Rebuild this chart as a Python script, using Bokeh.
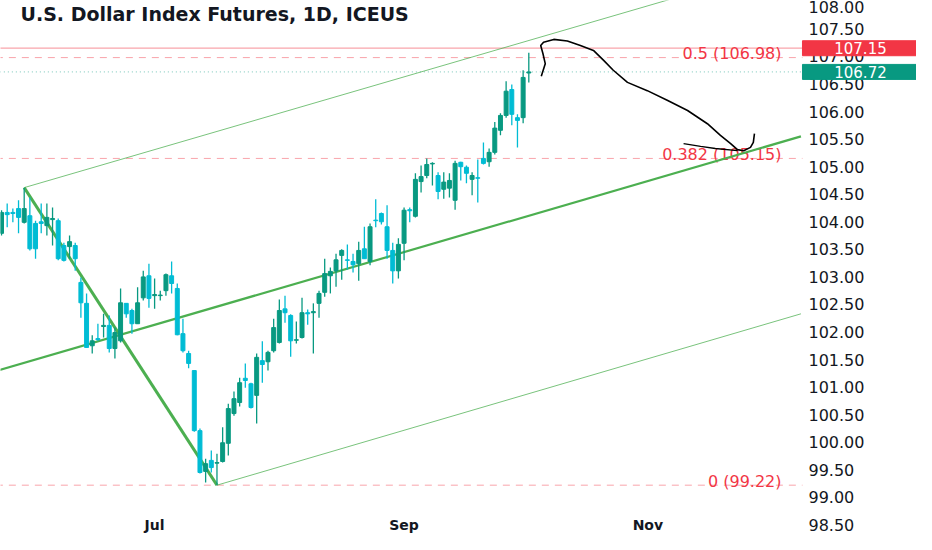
from bokeh.core.properties import value
from bokeh.embed import file_html
from bokeh.models import ColumnDataSource, FixedTicker, Label, PrintfTickFormatter, Range1d
from bokeh.plotting import figure
from bokeh.resources import INLINE

TITLE = "U.S. Dollar Index Futures, 1D, ICEUS"
UP_COLOR = "#089981"
DOWN_COLOR = "#00bcd4"
FIB_COLOR = "#f23645"
CHANNEL_COLOR = "#4caf50"
TEXT_COLOR = "#131722"
FONT = "DejaVu Sans"

# daily candles (bar index = trading day)
opens = [103.79, 104.17, 104.17, 104.24, 103.99, 104.11, 103.97, 104.00, 103.93, 104.04,
         104.02, 103.57, 103.55, 103.57, 102.90, 102.52, 101.75, 101.88, 102.10, 102.12,
         101.70, 101.84, 102.52, 102.39, 102.15, 102.62, 103.02, 102.66, 102.66, 102.75,
         103.02, 102.79, 101.97, 101.61, 101.30, 100.21, 99.47, 99.67, 99.62, 99.65,
         99.98, 100.52, 100.72, 101.16, 101.06, 100.85, 101.48, 101.46, 101.66, 101.81,
         102.42, 102.30, 101.85, 101.90, 102.35, 102.35, 102.52, 102.72, 103.02, 103.11,
         103.39, 103.31, 103.28, 103.24, 103.51, 103.28, 104.03, 104.15, 103.91, 103.48,
         103.11, 103.61, 104.22, 104.10, 104.73, 104.84, 105.05, 104.84, 104.59, 104.61,
         104.39, 105.08, 104.99, 104.77, 104.80, 105.15, 105.09, 105.26, 105.66, 105.93,
         106.40, 105.89, 105.89, 106.70]
highs = [104.21, 104.33, 104.24, 104.39, 104.62, 104.44, 104.02, 104.33, 104.33, 104.26,
         104.06, 103.62, 103.75, 103.62, 102.99, 102.70, 101.94, 102.15, 102.33, 102.30,
         102.08, 102.79, 102.52, 102.42, 102.81, 103.11, 103.24, 102.97, 102.75, 103.06,
         103.28, 102.88, 102.24, 101.66, 101.30, 100.25, 99.70, 99.85, 99.79, 100.27,
         100.70, 100.92, 101.17, 101.43, 101.08, 101.61, 101.83, 101.66, 102.24, 102.59,
         102.66, 102.32, 102.19, 102.62, 102.41, 102.52, 102.75, 103.33, 103.17, 103.42,
         103.50, 103.59, 103.42, 103.64, 103.91, 103.97, 104.41, 104.17, 104.30, 103.62,
         103.70, 104.26, 104.26, 104.88, 105.02, 105.15, 105.08, 104.90, 104.90, 104.88,
         105.11, 105.09, 105.02, 104.90, 105.13, 105.44, 105.33, 105.81, 105.97, 106.55,
         106.49, 105.95, 106.75, 107.07]
lows = [103.75, 103.90, 103.99, 103.79, 103.97, 103.48, 103.33, 103.79, 103.75, 103.57,
        103.30, 103.28, 103.33, 103.11, 102.26, 101.72, 101.61, 101.84, 101.90, 101.63,
        101.52, 101.81, 102.26, 101.97, 102.15, 102.57, 102.44, 102.42, 102.57, 102.66,
        102.70, 101.94, 101.63, 101.34, 100.19, 99.43, 99.27, 99.45, 99.22, 99.63,
        99.76, 100.48, 100.65, 100.99, 100.61, 100.34, 101.08, 101.30, 101.63, 101.79,
        102.17, 101.55, 101.79, 101.88, 102.13, 101.61, 102.26, 102.64, 102.70, 102.82,
        102.95, 103.13, 103.08, 102.93, 103.33, 103.21, 103.90, 103.95, 103.33, 102.88,
        102.97, 103.30, 103.99, 104.08, 104.53, 104.79, 104.66, 104.41, 104.42, 104.44,
        104.22, 104.75, 104.70, 104.48, 104.35, 105.04, 105.00, 105.22, 105.57, 105.89,
        105.75, 105.35, 105.79, 106.53]
closes = [104.17, 104.13, 104.15, 104.08, 104.24, 103.51, 103.51, 103.97, 104.08, 104.06,
          103.33, 103.30, 103.64, 103.33, 102.53, 101.72, 101.84, 101.86, 102.12, 101.70,
          101.99, 102.53, 102.33, 102.15, 102.53, 103.00, 102.61, 102.68, 102.67, 103.04,
          102.88, 101.95, 101.66, 101.43, 100.21, 99.45, 99.61, 99.54, 99.63, 99.99,
          100.61, 100.79, 101.08, 101.12, 100.63, 101.54, 101.41, 101.63, 102.08, 102.39,
          102.35, 101.84, 101.86, 102.35, 102.33, 102.37, 102.70, 103.06, 103.10, 103.31,
          103.48, 103.30, 103.22, 103.48, 103.33, 103.91, 104.02, 104.00, 103.48, 103.11,
          103.59, 104.21, 104.20, 104.77, 104.82, 105.04, 105.06, 104.55, 104.72, 104.75,
          105.06, 105.00, 104.88, 104.84, 104.79, 105.06, 105.26, 105.70, 105.93, 106.37,
          105.95, 105.84, 106.62, 106.72]

month_ticks = [27, 71, 114]
month_labels = ["Jul", "Sep", "Nov"]

price_ticks = [98.5, 99.0, 99.5, 100.0, 100.5, 101.0, 101.5, 102.0, 102.5, 103.0,
               103.5, 104.0, 104.5, 105.0, 105.5, 106.0, 106.5, 107.0, 107.5, 108.0]

# fib retracement levels
fib_levels = [0.5, 0.382, 0]
fib_prices = [106.98, 105.15, 99.22]

# horizontal line and last price
line_price = 107.15
last_price = 106.72

# channel drawing: swing line and three parallels
swing_bars = [4, 38]
swing_prices = [104.62, 99.22]
upper_bars = [4, 141]
upper_prices = [104.62, 108.73]
median_bars = [-1, 141]
median_prices = [101.29, 105.55]
lower_bars = [38, 141]
lower_prices = [99.22, 102.33]

# hand drawn projection
curve_bars = [95.2, 95.9, 95.5, 95.1, 95.6, 97.4, 99.8, 102.1, 104.4, 106.2, 107.9,
              110.4, 113.9, 117.5, 121.0, 124.5, 126.8, 128.6, 129.8, 130.9, 132.1, 132.6, 132.8]
curve_prices = [106.64, 106.87, 107.05, 107.20, 107.26, 107.31, 107.28, 107.20, 107.11,
                106.93, 106.75, 106.53, 106.38, 106.20, 106.02, 105.78, 105.57, 105.42,
                105.31, 105.29, 105.35, 105.44, 105.60]
tail_bars = [120.3, 123.3, 125.9, 129.8]
tail_prices = [105.42, 105.37, 105.33, 105.29]

# where the price scale and the time scale sit
SCALE_BAR = 141.27
TAG_BAR = 151.5
TIME_SCALE_PRICE = 98.68

bars = list(range(len(opens)))
colors = [UP_COLOR if c >= o else DOWN_COLOR for o, c in zip(opens, closes)]
source = ColumnDataSource(data=dict(
    x=bars, open=opens, high=highs, low=lows, close=closes, color=colors,
    top=[max(o, c) for o, c in zip(opens, closes)],
    bottom=[min(o, c) for o, c in zip(opens, closes)],
))

p = figure(width=916, height=534, x_range=Range1d(-0.18, 161.38), y_range=Range1d(98.325, 108.016),
           y_axis_location="right", output_backend="svg", toolbar_location=None,
           min_border_left=0, min_border_top=0, min_border_right=0, min_border_bottom=0)
p.grid.visible = False
p.outline_line_color = None
p.background_fill_color = "white"
p.border_fill_color = "white"

yaxis = p.yaxis[0]
yaxis.fixed_location = SCALE_BAR
yaxis.ticker = FixedTicker(ticks=price_ticks)
yaxis.formatter = PrintfTickFormatter(format="%.2f")
yaxis.axis_line_color = None
yaxis.major_tick_line_color = None
yaxis.minor_tick_line_color = None
yaxis.major_tick_out = 0
yaxis.major_tick_in = 0
yaxis.major_label_standoff = 6
yaxis.major_label_text_font = FONT
yaxis.major_label_text_font_size = "16px"
yaxis.major_label_text_color = TEXT_COLOR

xaxis = p.xaxis[0]
xaxis.fixed_location = TIME_SCALE_PRICE
xaxis.ticker = FixedTicker(ticks=month_ticks)
xaxis.major_label_overrides = dict(zip(month_ticks, month_labels))
xaxis.axis_line_color = None
xaxis.major_tick_line_color = None
xaxis.minor_tick_line_color = None
xaxis.major_tick_out = 0
xaxis.major_tick_in = 0
xaxis.major_label_standoff = 2
xaxis.major_label_text_font = FONT
xaxis.major_label_text_font_style = "bold"
xaxis.major_label_text_font_size = "14px"
xaxis.major_label_text_color = TEXT_COLOR

# horizontal levels, ending at the price scale
n_fib = len(fib_prices)
p.segment(x0=[-1] * n_fib, x1=[SCALE_BAR] * n_fib, y0=fib_prices, y1=fib_prices,
          line_color=FIB_COLOR, line_alpha=0.45, line_width=1, line_dash="7 6")
p.segment(x0=[-1], x1=[SCALE_BAR], y0=[line_price], y1=[line_price],
          line_color=FIB_COLOR, line_alpha=0.45, line_width=1.2)
p.segment(x0=[-1], x1=[SCALE_BAR], y0=[last_price], y1=[last_price],
          line_color=UP_COLOR, line_alpha=0.55, line_width=1, line_dash="1 3")

p.text(x=[SCALE_BAR - 3.7] * n_fib, y=fib_prices,
       text=[f"{lvl} ({price:.2f})" for lvl, price in zip(fib_levels, fib_prices)],
       text_align="right", text_baseline="alphabetic", y_offset=-4,
       text_color=FIB_COLOR, text_font=value(FONT), text_font_size="16px")

# channel
p.line(upper_bars, upper_prices, line_color=CHANNEL_COLOR, line_alpha=0.75, line_width=1)
p.line(lower_bars, lower_prices, line_color=CHANNEL_COLOR, line_alpha=0.75, line_width=1)
p.line(median_bars, median_prices, line_color=CHANNEL_COLOR, line_width=2.2)
p.line(swing_bars, swing_prices, line_color=CHANNEL_COLOR, line_width=3)

# candles
p.segment(x0="x", y0="low", x1="x", y1="high", line_color="color", line_width=1.3, source=source)
p.vbar(x="x", width=0.7, top="top", bottom="bottom", fill_color="color", line_color="color",
       line_width=1, source=source)

# hand drawn path
p.line(curve_bars, curve_prices, line_color="black", line_width=1.6)
p.line(tail_bars, tail_prices, line_color="black", line_width=1.3)

p.add_layout(Label(x=20, x_units="screen", y=107.78, y_units="data", text=TITLE,
                   text_baseline="middle", text_font=FONT, text_font_style="bold",
                   text_font_size="19px", text_color=TEXT_COLOR))

# price tags on the scale, drawn over the tick labels
tag_prices = [line_price, last_price]
tag_colors = [FIB_COLOR, UP_COLOR]
p.rect(x=[TAG_BAR] * 2, y=tag_prices, width=116, height=15, width_units="screen",
       height_units="screen", fill_color=tag_colors, line_color=tag_colors, level="overlay")
p.text(x=[TAG_BAR] * 2, y=tag_prices, text=[f"{v:.2f}" for v in tag_prices],
       text_align="center", text_baseline="middle", text_color="white",
       text_font=value(FONT), text_font_size="15px", level="overlay")

open("out.html", "w").write(file_html(p, INLINE))
